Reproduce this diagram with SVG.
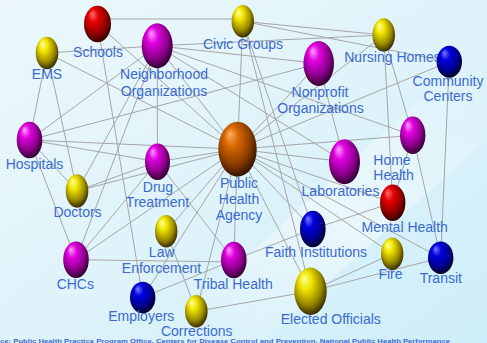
<svg xmlns="http://www.w3.org/2000/svg" width="487" height="343" viewBox="0 0 487 343">
<defs>
<linearGradient id="bg" x1="0" y1="0" x2="1" y2="1">
<stop offset="0" stop-color="#ecf8fc"/>
<stop offset="0.5" stop-color="#dff3fa"/>
<stop offset="1" stop-color="#cdeefa"/>
</linearGradient>
<linearGradient id="band" x1="0" y1="1" x2="1" y2="0">
<stop offset="0" stop-color="#ffffff" stop-opacity="0"/>
<stop offset="0.5" stop-color="#ffffff" stop-opacity="0.45"/>
<stop offset="1" stop-color="#ffffff" stop-opacity="0"/>
</linearGradient>
<radialGradient id="gY" cx="0.45" cy="0.4" r="0.62" fx="0.3" fy="0.22">
<stop offset="0" stop-color="#ffffa0"/>
<stop offset="0.3" stop-color="#f2e600"/>
<stop offset="0.7" stop-color="#9a8a00"/>
<stop offset="1" stop-color="#2e2400"/>
</radialGradient>
<radialGradient id="gR" cx="0.45" cy="0.4" r="0.62" fx="0.3" fy="0.22">
<stop offset="0" stop-color="#ff7070"/>
<stop offset="0.3" stop-color="#e60000"/>
<stop offset="0.7" stop-color="#900000"/>
<stop offset="1" stop-color="#2a0000"/>
</radialGradient>
<radialGradient id="gM" cx="0.45" cy="0.4" r="0.62" fx="0.3" fy="0.22">
<stop offset="0" stop-color="#ffa0ff"/>
<stop offset="0.3" stop-color="#e000e0"/>
<stop offset="0.7" stop-color="#8a008a"/>
<stop offset="1" stop-color="#2a002a"/>
</radialGradient>
<radialGradient id="gB" cx="0.45" cy="0.4" r="0.62" fx="0.3" fy="0.22">
<stop offset="0" stop-color="#7a7aff"/>
<stop offset="0.3" stop-color="#0000e0"/>
<stop offset="0.7" stop-color="#000090"/>
<stop offset="1" stop-color="#00001e"/>
</radialGradient>
<radialGradient id="gO" cx="0.45" cy="0.4" r="0.62" fx="0.3" fy="0.22">
<stop offset="0" stop-color="#ffb060"/>
<stop offset="0.3" stop-color="#d86800"/>
<stop offset="0.7" stop-color="#8a3c00"/>
<stop offset="1" stop-color="#2a1000"/>
</radialGradient>
<style>
.e line{stroke:#a6a6a6;stroke-width:1;fill:none}
.t{font-family:"Liberation Sans",Arial,sans-serif;font-size:14px;fill:#3a6ad0;text-anchor:middle}
.src{font-family:"Liberation Sans",Arial,sans-serif;font-size:5px;font-weight:bold;fill:#3a6ad0}
</style>
</defs>
<rect width="487" height="343" fill="url(#bg)"/>
<polygon points="150,343 487,40 487,140 260,343" fill="url(#band)"/>
<g id="connectors" class="e">
<line x1="97.5" y1="19" x2="242.8" y2="19"/>
<line x1="97.5" y1="24" x2="142.7" y2="297.5"/>
<line x1="97.5" y1="24" x2="237.5" y2="149.2"/>
<line x1="47" y1="53" x2="157.2" y2="45.8"/>
<line x1="47" y1="53" x2="29.5" y2="140"/>
<line x1="47" y1="53" x2="77" y2="191"/>
<line x1="47" y1="53" x2="237.5" y2="149.2"/>
<line x1="157.2" y1="45.8" x2="318.7" y2="63.5"/>
<line x1="157.2" y1="45.8" x2="383.7" y2="35"/>
<line x1="157.2" y1="45.8" x2="157.5" y2="161.7"/>
<line x1="157.2" y1="45.8" x2="237.5" y2="149.2"/>
<line x1="157.2" y1="45.8" x2="344.5" y2="161.8"/>
<line x1="157.2" y1="45.8" x2="412.7" y2="135.3"/>
<line x1="157.2" y1="45.8" x2="29.5" y2="140"/>
<line x1="157.2" y1="45.8" x2="77" y2="191"/>
<line x1="157.2" y1="45.8" x2="76" y2="259.7"/>
<line x1="29.5" y1="140" x2="318.7" y2="63.5"/>
<line x1="29.5" y1="140" x2="237.5" y2="149.2"/>
<line x1="29.5" y1="140" x2="157.5" y2="161.7"/>
<line x1="29.5" y1="140" x2="77" y2="191"/>
<line x1="29.5" y1="140" x2="76" y2="259.7"/>
<line x1="242.8" y1="21.3" x2="383.7" y2="35"/>
<line x1="242.8" y1="21.3" x2="449.3" y2="61.7"/>
<line x1="242.8" y1="21.3" x2="237.5" y2="149.2"/>
<line x1="242.8" y1="21.3" x2="312.8" y2="229"/>
<line x1="242.8" y1="21.3" x2="310.5" y2="291.3"/>
<line x1="318.7" y1="63.5" x2="237.5" y2="149.2"/>
<line x1="318.7" y1="63.5" x2="344.5" y2="161.8"/>
<line x1="383.7" y1="35" x2="412.7" y2="135.3"/>
<line x1="383.7" y1="35" x2="392.7" y2="202.7"/>
<line x1="383.7" y1="35" x2="237.5" y2="149.2"/>
<line x1="449.3" y1="61.7" x2="237.5" y2="149.2"/>
<line x1="449.3" y1="61.7" x2="440.7" y2="257.8"/>
<line x1="412.7" y1="135.3" x2="440.7" y2="257.8"/>
<line x1="412.7" y1="135.3" x2="392.7" y2="202.7"/>
<line x1="412.7" y1="135.3" x2="237.5" y2="149.2"/>
<line x1="157.5" y1="161.7" x2="237.5" y2="149.2"/>
<line x1="157.5" y1="161.7" x2="77" y2="191"/>
<line x1="157.5" y1="161.7" x2="233.8" y2="260"/>
<line x1="157.5" y1="161.7" x2="76" y2="259.7"/>
<line x1="77" y1="191" x2="237.5" y2="149.2"/>
<line x1="344.5" y1="161.8" x2="237.5" y2="149.2"/>
<line x1="392.7" y1="202.7" x2="237.5" y2="149.2"/>
<line x1="392.7" y1="202.7" x2="312.8" y2="229"/>
<line x1="312.8" y1="229" x2="233.8" y2="260"/>
<line x1="392.2" y1="253.7" x2="310.5" y2="291.3"/>
<line x1="440.7" y1="257.8" x2="310.5" y2="291.3"/>
<line x1="237.5" y1="149.2" x2="392.2" y2="253.7"/>
<line x1="237.5" y1="149.2" x2="440.7" y2="257.8"/>
<line x1="237.5" y1="149.2" x2="312.8" y2="229"/>
<line x1="237.5" y1="149.2" x2="310.5" y2="291.3"/>
<line x1="237.5" y1="149.2" x2="233.8" y2="260"/>
<line x1="237.5" y1="149.2" x2="196.3" y2="311.3"/>
<line x1="237.5" y1="149.2" x2="142.7" y2="297.5"/>
<line x1="310.5" y1="291.3" x2="196.3" y2="311.3"/>
<line x1="166.2" y1="231.3" x2="196.3" y2="311.3"/>
<line x1="166.2" y1="231.3" x2="237.5" y2="149.2"/>
<line x1="76" y1="259.7" x2="233.8" y2="262"/>
<line x1="76" y1="259.7" x2="237.5" y2="149.2"/>
<line x1="142.7" y1="297.5" x2="233.8" y2="260"/>
</g>
<g id="schools"><ellipse cx="97.5" cy="24" rx="13.5" ry="18.3" fill="url(#gR)"/><text class="t" x="98" y="56.7">Schools</text></g>
<g id="civic-groups"><ellipse cx="242.8" cy="21.3" rx="11.2" ry="16.3" fill="url(#gY)"/><text class="t" x="243" y="49.3">Civic Groups</text></g>
<g id="ems"><ellipse cx="47" cy="53" rx="11.3" ry="16.3" fill="url(#gY)"/><text class="t" x="47" y="79">EMS</text></g>
<g id="neighborhood-organizations"><ellipse cx="157.2" cy="45.8" rx="15.5" ry="22.5" fill="url(#gM)"/><text class="t" x="164" y="79.3">Neighborhood</text><text class="t" x="164" y="95.7">Organizations</text></g>
<g id="nonprofit-organizations"><ellipse cx="318.7" cy="63.5" rx="15.3" ry="22.5" fill="url(#gM)"/><text class="t" x="320" y="97.3">Nonprofit</text><text class="t" x="320.5" y="113.3">Organizations</text></g>
<g id="nursing-homes"><ellipse cx="383.7" cy="35" rx="11.3" ry="16.7" fill="url(#gY)"/><text class="t" x="392.5" y="61.7">Nursing Homes</text></g>
<g id="community-centers"><ellipse cx="449.3" cy="61.7" rx="12.7" ry="16" fill="url(#gB)"/><text class="t" x="448" y="86">Community</text><text class="t" x="448" y="100.7">Centers</text></g>
<g id="hospitals"><ellipse cx="29.5" cy="140" rx="12.8" ry="18.3" fill="url(#gM)"/><text class="t" x="34.5" y="169.3">Hospitals</text></g>
<g id="public-health-agency"><ellipse cx="237.5" cy="149.2" rx="19.2" ry="27.5" fill="url(#gO)"/><text class="t" x="239" y="188.3">Public</text><text class="t" x="239" y="204">Health</text><text class="t" x="239" y="220">Agency</text></g>
<g id="home-health"><ellipse cx="412.7" cy="135.3" rx="12.7" ry="18.7" fill="url(#gM)"/><text class="t" x="392" y="165">Home</text><text class="t" x="393.5" y="180">Health</text></g>
<g id="drug-treatment"><ellipse cx="157.5" cy="161.7" rx="12.5" ry="18.3" fill="url(#gM)"/><text class="t" x="158" y="191.7">Drug</text><text class="t" x="157.5" y="206.7">Treatment</text></g>
<g id="laboratories"><ellipse cx="344.5" cy="161.8" rx="15.5" ry="22.5" fill="url(#gM)"/><text class="t" x="340.5" y="196">Laboratories</text></g>
<g id="doctors"><ellipse cx="77" cy="191" rx="11.3" ry="16.7" fill="url(#gY)"/><text class="t" x="77.5" y="216.7">Doctors</text></g>
<g id="mental-health"><ellipse cx="392.7" cy="202.7" rx="12.7" ry="18.3" fill="url(#gR)"/><text class="t" x="404.7" y="231.7">Mental Health</text></g>
<g id="law-enforcement"><ellipse cx="166.2" cy="231.3" rx="11.2" ry="16.3" fill="url(#gY)"/><text class="t" x="161.7" y="257">Law</text><text class="t" x="161.5" y="273">Enforcement</text></g>
<g id="faith-institutions"><ellipse cx="312.8" cy="229" rx="12.8" ry="18.3" fill="url(#gB)"/><text class="t" x="316" y="256.7">Faith Institutions</text></g>
<g id="chcs"><ellipse cx="76" cy="259.7" rx="12.8" ry="18.3" fill="url(#gM)"/><text class="t" x="75.3" y="289">CHCs</text></g>
<g id="tribal-health"><ellipse cx="233.8" cy="260" rx="12.8" ry="18.3" fill="url(#gM)"/><text class="t" x="233.3" y="289">Tribal Health</text></g>
<g id="fire"><ellipse cx="392.2" cy="253.7" rx="11.2" ry="16.3" fill="url(#gY)"/><text class="t" x="390.5" y="279.3">Fire</text></g>
<g id="transit"><ellipse cx="440.7" cy="257.8" rx="12.7" ry="16.2" fill="url(#gB)"/><text class="t" x="440.8" y="283.3">Transit</text></g>
<g id="employers"><ellipse cx="142.7" cy="297.5" rx="12.7" ry="15.8" fill="url(#gB)"/><text class="t" x="141.3" y="321">Employers</text></g>
<g id="corrections"><ellipse cx="196.3" cy="311.3" rx="11.3" ry="16.3" fill="url(#gY)"/><text class="t" x="196.7" y="336">Corrections</text></g>
<g id="elected-officials"><ellipse cx="310.5" cy="291.3" rx="16.2" ry="23.7" fill="url(#gY)"/><text class="t" x="330.8" y="324.3">Elected Officials</text></g>
<text class="src" x="0" y="342.6" textLength="450" lengthAdjust="spacingAndGlyphs">ce: Public Health Practice Program Office, Centers for Disease Control and Prevention, National Public Health Performance</text>
</svg>
